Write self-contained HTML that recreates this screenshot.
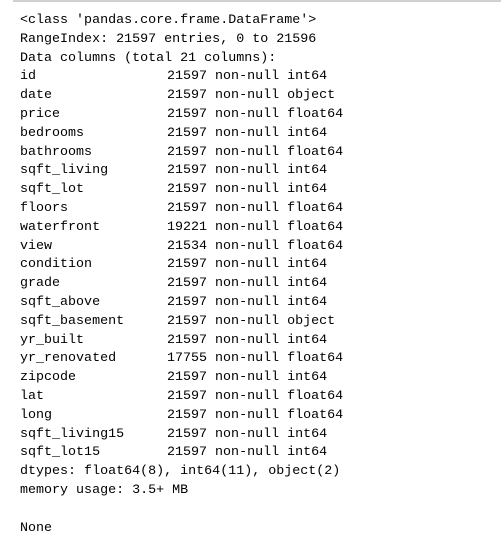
<!DOCTYPE html>
<html><head><meta charset="utf-8"><style>
html,body{margin:0;padding:0;background:#fff;width:501px;height:543px;overflow:hidden}
.top{position:absolute;left:13px;top:0;width:488px;height:2px;background:#d0d0d0}
.t{position:absolute;left:20px;top:12px;margin:0;font-family:"Liberation Mono",monospace;font-size:13.35px;line-height:18.8px;color:#000}
.t div{height:18.8px;white-space:pre}
.t span{display:inline-block;width:147px}
</style></head><body>
<div class="top"></div>
<div class="t">
<div>&lt;class 'pandas.core.frame.DataFrame'&gt;</div>
<div>RangeIndex: 21597 entries, 0 to 21596</div>
<div>Data columns (total 21 columns):</div>
<div><span>id</span>21597 non-null int64</div>
<div><span>date</span>21597 non-null object</div>
<div><span>price</span>21597 non-null float64</div>
<div><span>bedrooms</span>21597 non-null int64</div>
<div><span>bathrooms</span>21597 non-null float64</div>
<div><span>sqft_living</span>21597 non-null int64</div>
<div><span>sqft_lot</span>21597 non-null int64</div>
<div><span>floors</span>21597 non-null float64</div>
<div><span>waterfront</span>19221 non-null float64</div>
<div><span>view</span>21534 non-null float64</div>
<div><span>condition</span>21597 non-null int64</div>
<div><span>grade</span>21597 non-null int64</div>
<div><span>sqft_above</span>21597 non-null int64</div>
<div><span>sqft_basement</span>21597 non-null object</div>
<div><span>yr_built</span>21597 non-null int64</div>
<div><span>yr_renovated</span>17755 non-null float64</div>
<div><span>zipcode</span>21597 non-null int64</div>
<div><span>lat</span>21597 non-null float64</div>
<div><span>long</span>21597 non-null float64</div>
<div><span>sqft_living15</span>21597 non-null int64</div>
<div><span>sqft_lot15</span>21597 non-null int64</div>
<div>dtypes: float64(8), int64(11), object(2)</div>
<div>memory usage: 3.5+ MB</div>
<div></div>
<div>None</div>
</div>
</body></html>
